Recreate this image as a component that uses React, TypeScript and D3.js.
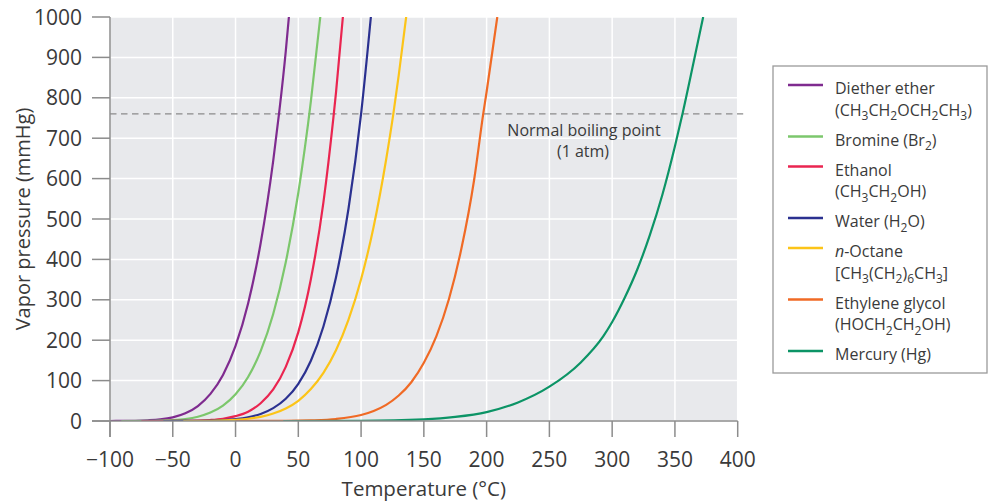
import React from "react";
import * as d3 from "d3";

const xTicks = [-100, -50, 0, 50, 100, 150, 200, 250, 300, 350, 400];
const yTicks = [0, 100, 200, 300, 400, 500, 600, 700, 800, 900, 1000];

const etherT = [-100, -90, -80, -70, -60, -50, -40, -30, -20, -10, 0, 10, 20, 30, 35, 40, 42.5];
const etherP = [0, 0.2, 0.6, 1.8, 4, 9, 19, 37, 67, 114, 186, 291, 440, 644, 770, 915, 1000];

const bromineT = [-91, -70, -60, -50, -40, -30, -20, -10, 0, 10, 20, 30, 40, 50, 60, 67.5];
const bromineP = [0, 0.3, 0.9, 2.3, 5, 10.6, 20.8, 38, 66, 109, 173, 265, 393, 565, 791, 1000];

const ethanolT = [-75, -50, -30, -20, -10, 0, 10, 20, 30, 40, 50, 60, 70, 78, 80, 85.5];
const ethanolP = [0, 0.1, 1, 2.5, 5.6, 12, 23, 44, 78, 134, 220, 351, 541, 752, 812, 1000];

const waterT = [-57.5, -40, -20, -10, 0, 10, 20, 30, 40, 50, 60, 70, 80, 90, 100, 107.8];
const waterP = [0, 0.1, 0.9, 2.1, 4.6, 9.2, 17.5, 32, 55, 92, 149, 234, 355, 526, 760, 1000];

const octaneT = [-41.6, -20, 0, 10, 20, 30, 40, 50, 60, 70, 80, 90, 100, 110, 120, 125.7, 130, 135.9];
const octaneP = [0, 0.6, 2.9, 5.6, 10.4, 18.4, 31, 50, 79, 119, 175, 251, 351, 481, 648, 760, 856, 1000];

const glycolT = [0, 40, 60, 80, 100, 110, 120, 130, 140, 150, 160, 170, 180, 190, 197.3, 200, 208.5];
const glycolP = [0, 0.3, 1.5, 5, 15, 25, 40, 63, 96, 144, 210, 302, 428, 596, 760, 815, 1000];

const mercuryT = [38, 100, 150, 175, 200, 225, 250, 275, 293, 300, 310, 320, 330, 340, 350, 356, 365, 372.5];
const mercuryP = [0, 0.4, 4, 10, 22, 46, 85, 145, 210, 245, 305, 375, 460, 560, 680, 760, 890, 1000];

const seriesNames = ["Diether ether", "Bromine", "Ethanol", "Water", "n-Octane", "Ethylene glycol", "Mercury"];
const seriesColors = ["#7f2b8f", "#7cc76c", "#ea2550", "#2b3190", "#fcc418", "#f06a25", "#0c9466"];
const seriesTemps = [etherT, bromineT, ethanolT, waterT, octaneT, glycolT, mercuryT];
const seriesPress = [etherP, bromineP, ethanolP, waterP, octaneP, glycolP, mercuryP];

const legendLabels = [
  ["Diether ether", "(CH_3CH_2OCH_2CH_3)"],
  ["Bromine (Br_2)"],
  ["Ethanol", "(CH_3CH_2OH)"],
  ["Water (H_2O)"],
  ["*n*-Octane", "[CH_3(CH_2)_6CH_3]"],
  ["Ethylene glycol", "(HOCH_2CH_2OH)"],
  ["Mercury (Hg)"],
];

const boilingPressure = 760;

const FONT = "'Open Sans', sans-serif";

function richText(s: string, subSize: number) {
  const parts: { t: string; sub: boolean; it: boolean }[] = [];
  let buf = "";
  let italic = false;
  for (let i = 0; i < s.length; i++) {
    const c = s[i];
    if (c === "_") {
      if (buf) parts.push({ t: buf, sub: false, it: italic });
      buf = "";
      parts.push({ t: s[i + 1], sub: true, it: false });
      i++;
    } else if (c === "*") {
      if (buf) parts.push({ t: buf, sub: false, it: italic });
      buf = "";
      italic = !italic;
    } else buf += c;
  }
  if (buf) parts.push({ t: buf, sub: false, it: italic });
  let shift = 0;
  return parts.map((p, i) => {
    const target = p.sub ? 4.5 : 0;
    const dy = target - shift;
    shift = target;
    return (
      <tspan
        key={i}
        dy={dy !== 0 ? dy : undefined}
        fontSize={p.sub ? subSize : undefined}
        fontStyle={p.it ? "italic" : undefined}
      >
        {p.t}
      </tspan>
    );
  });
}

export default function App() {
  const W = 992;
  const H = 502;
  const x = d3.scaleLinear().domain([-100, 400]).range([110, 737.7]);
  const y = d3.scaleLinear().domain([0, 1000]).range([421, 17]);
  const line = d3
    .line<[number, number]>()
    .x((d) => x(d[0]))
    .y((d) => y(d[1]))
    .curve(d3.curveMonotoneX);

  const axisColor = "#8c8c8c";
  const textColor = "#3a3a3a";

  const legendX = 773;
  const legendTop = 66;
  let ly = 85;
  const legendRows = legendLabels.map((lines, i) => {
    const row = { y: ly, lines, color: seriesColors[i] };
    ly += lines.length === 2 ? 51.5 : 30;
    return row;
  });

  return (
    <svg width={W} height={H} style={{ position: "absolute", left: 0, top: 0 }} fontFamily={FONT}>
      <defs>
        <clipPath id="plotclip">
          <rect x={x(-100)} y={y(1000)} width={x(400) - x(-100)} height={y(0) - y(1000)} />
        </clipPath>
      </defs>
      <rect x={x(-100)} y={y(1000)} width={x(400) - x(-100)} height={y(0) - y(1000)} fill="#e8e9ec" />
      {xTicks.map((t) => (
        <line key={"gx" + t} x1={x(t)} x2={x(t)} y1={y(0)} y2={y(1000)} stroke="#fff" strokeWidth={1.5} />
      ))}
      {yTicks.map((t) => (
        <line key={"gy" + t} x1={x(-100)} x2={x(400)} y1={y(t)} y2={y(t)} stroke="#fff" strokeWidth={1.5} />
      ))}
      <line
        x1={x(-100)}
        x2={x(400) + 5.5}
        y1={y(boilingPressure)}
        y2={y(boilingPressure)}
        stroke="#8a8a8a"
        strokeWidth={1.2}
        strokeDasharray="6.5,4.5"
      />
      <text x={584} y={136} textAnchor="middle" fontSize={16} fill={textColor}>
        Normal boiling point
      </text>
      <text x={583} y={157} textAnchor="middle" fontSize={16} fill={textColor}>
        (1 atm)
      </text>
      <g clipPath="url(#plotclip)">
        {seriesTemps.map((ts, i) => (
          <path
            key={seriesNames[i]}
            d={line(ts.map((t, j) => [t, seriesPress[i][j]] as [number, number])) || ""}
            fill="none"
            stroke={seriesColors[i]}
            strokeWidth={2.2}
          />
        ))}
      </g>
      <line x1={x(-100)} x2={x(-100)} y1={y(1000)} y2={y(0) + 16} stroke={axisColor} strokeWidth={1.5} />
      <line x1={x(-100) - 18} x2={x(400)} y1={y(0)} y2={y(0)} stroke={axisColor} strokeWidth={1.5} />
      {yTicks.map((t) => (
        <g key={"yt" + t}>
          <line x1={x(-100) - 18} x2={x(-100)} y1={y(t)} y2={y(t)} stroke={axisColor} strokeWidth={1.5} />
          <text x={82} y={y(t) + 7.5} textAnchor="end" fontSize={21} fill={textColor}>
            {t}
          </text>
        </g>
      ))}
      {xTicks.map((t) => (
        <g key={"xt" + t}>
          <line x1={x(t)} x2={x(t)} y1={y(0)} y2={y(0) + 16} stroke={axisColor} strokeWidth={1.5} />
          <text x={x(t)} y={467} textAnchor="middle" fontSize={21} fill={textColor}>
            {t < 0 ? "\u2212" + Math.abs(t) : String(t)}
          </text>
        </g>
      ))}
      <text x={(x(-100) + x(400)) / 2} y={496} textAnchor="middle" fontSize={20.5} fill={textColor}>
        Temperature (°C)
      </text>
      <text
        transform={`translate(30,${(y(0) + y(1000)) / 2}) rotate(-90)`}
        textAnchor="middle"
        fontSize={20}
        fill={textColor}
      >
        Vapor pressure (mmHg)
      </text>
      <rect x={legendX} y={legendTop} width={214} height={307} fill="#fff" stroke="#9a9a9a" strokeWidth={1.3} />
      {legendRows.map((r, i) => (
        <g key={"lg" + i}>
          <line x1={788} x2={823} y1={r.y} y2={r.y} stroke={r.color} strokeWidth={2.4} />
          {r.lines.map((ln, k) => (
            <text key={k} x={835} y={r.y + 9 + k * 21.5} fontSize={16} fill={textColor}>
              {richText(ln, 12)}
            </text>
          ))}
        </g>
      ))}
    </svg>
  );
}
